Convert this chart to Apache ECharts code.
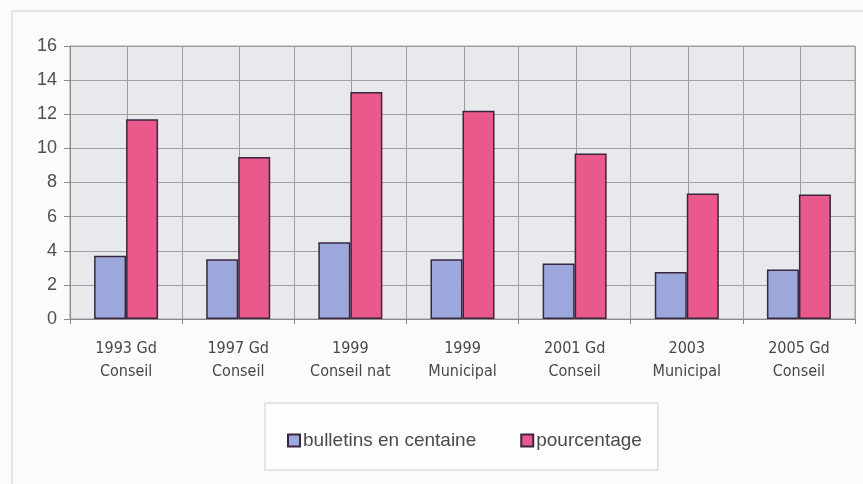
<!DOCTYPE html>
<html>
<head>
<meta charset="utf-8">
<script src="https://cdn.jsdelivr.net/npm/echarts@6/dist/echarts.min.js"></script>
<style>
html,body{margin:0;padding:0;background:#fbfbfb;}
#c{width:863px;height:484px;}
</style>
</head>
<body>
<div id="c"></div>
<script>
const categories = ['1993 Gd\nConseil','1997 Gd\nConseil','1999\nConseil nat','1999\nMunicipal','2001 Gd\nConseil','2003\nMunicipal','2005 Gd\nConseil'];
const seriesNames = ['bulletins en centaine','pourcentage'];
const bulletins = [3.7, 3.5, 4.5, 3.5, 3.25, 2.75, 2.9];
const pourcentage = [11.7, 9.5, 13.3, 12.2, 9.7, 7.35, 7.3];
const yTicks = {min:0, max:16, interval:2};

const chart = echarts.init(document.getElementById('c'), null, {renderer:'canvas'});
const border = '#3a2640';
const font = "'Liberation Sans', Arial, sans-serif";
const gridColor = '#a0a0a0';
chart.setOption({
  backgroundColor:'#fbfbfb',
  animation:false,
  graphic:[
    {type:'rect', shape:{x:12,y:11,width:870,height:500}, style:{fill:'none',stroke:'#cfcfcf',lineWidth:1}, z:-1},
    {type:'rect', shape:{x:265,y:403,width:393,height:67}, style:{fill:'#fdfdfd',stroke:'#cccccc',lineWidth:1}, z:-1}
  ],
  grid:{left:70,right:8,top:46,bottom:165,show:true,backgroundColor:'#e7e9ec',borderColor:'#a0a0a0',borderWidth:1},
  legend:{
    data:seriesNames, left:282, top:426, itemWidth:12, itemHeight:12, itemGap:44,
    icon:'rect',
    textStyle:{fontFamily:font,fontSize:19,color:'#4a4a4a',padding:[0,0,0,-2]}
  },
  xAxis:{type:'category', data:categories,
     axisLine:{show:true,lineStyle:{color:'#8a8a8a'}},
     axisTick:{show:true,length:5,lineStyle:{color:'#8a8a8a'}},
     splitLine:{show:true,lineStyle:{color:gridColor,width:1}},
     axisLabel:{fontFamily:"'Liberation Sans Narrow','Arial Narrow','DejaVu Sans Condensed',sans-serif",fontSize:16,color:'#474747',lineHeight:23,margin:18}
  },
  yAxis:{type:'value', min:yTicks.min, max:yTicks.max, interval:yTicks.interval,
    axisLine:{show:true,lineStyle:{color:'#8a8a8a'}},
    axisTick:{show:true,length:6,lineStyle:{color:'#8a8a8a'}},
    splitLine:{show:true,lineStyle:{color:gridColor,width:1}},
    axisLabel:{fontFamily:font,fontSize:18,color:'#505050',margin:13}
  },
  series:[
    {name:'centre-lines', type:'custom', z:2, silent:true,
     encode:{x:0, y:1},
     data:categories.map((c, i) => [i, yTicks.max]),
     renderItem:function(params, api){
       const top = api.coord([api.value(0), yTicks.max]);
       const bot = api.coord([api.value(0), yTicks.min]);
       const x = Math.round(top[0]) + 1.5;
       return {type:'rect', shape:{x:x-0.5, y:top[1], width:1, height:bot[1]-top[1]},
               style:{fill:'#9a9a9a', stroke:null}};
     }},
    {name:seriesNames[0], type:'bar', data:bulletins, barWidth:32, barGap:'0%', z:3,
     itemStyle:{color:'#9ca8dc',borderColor:border,borderWidth:1.5}},
    {name:seriesNames[1], type:'bar', data:pourcentage, barWidth:32, barGap:'0%', z:3,
     itemStyle:{color:'#e9598c',borderColor:border,borderWidth:1.5}}
  ]
});
</script>
</body>
</html>
